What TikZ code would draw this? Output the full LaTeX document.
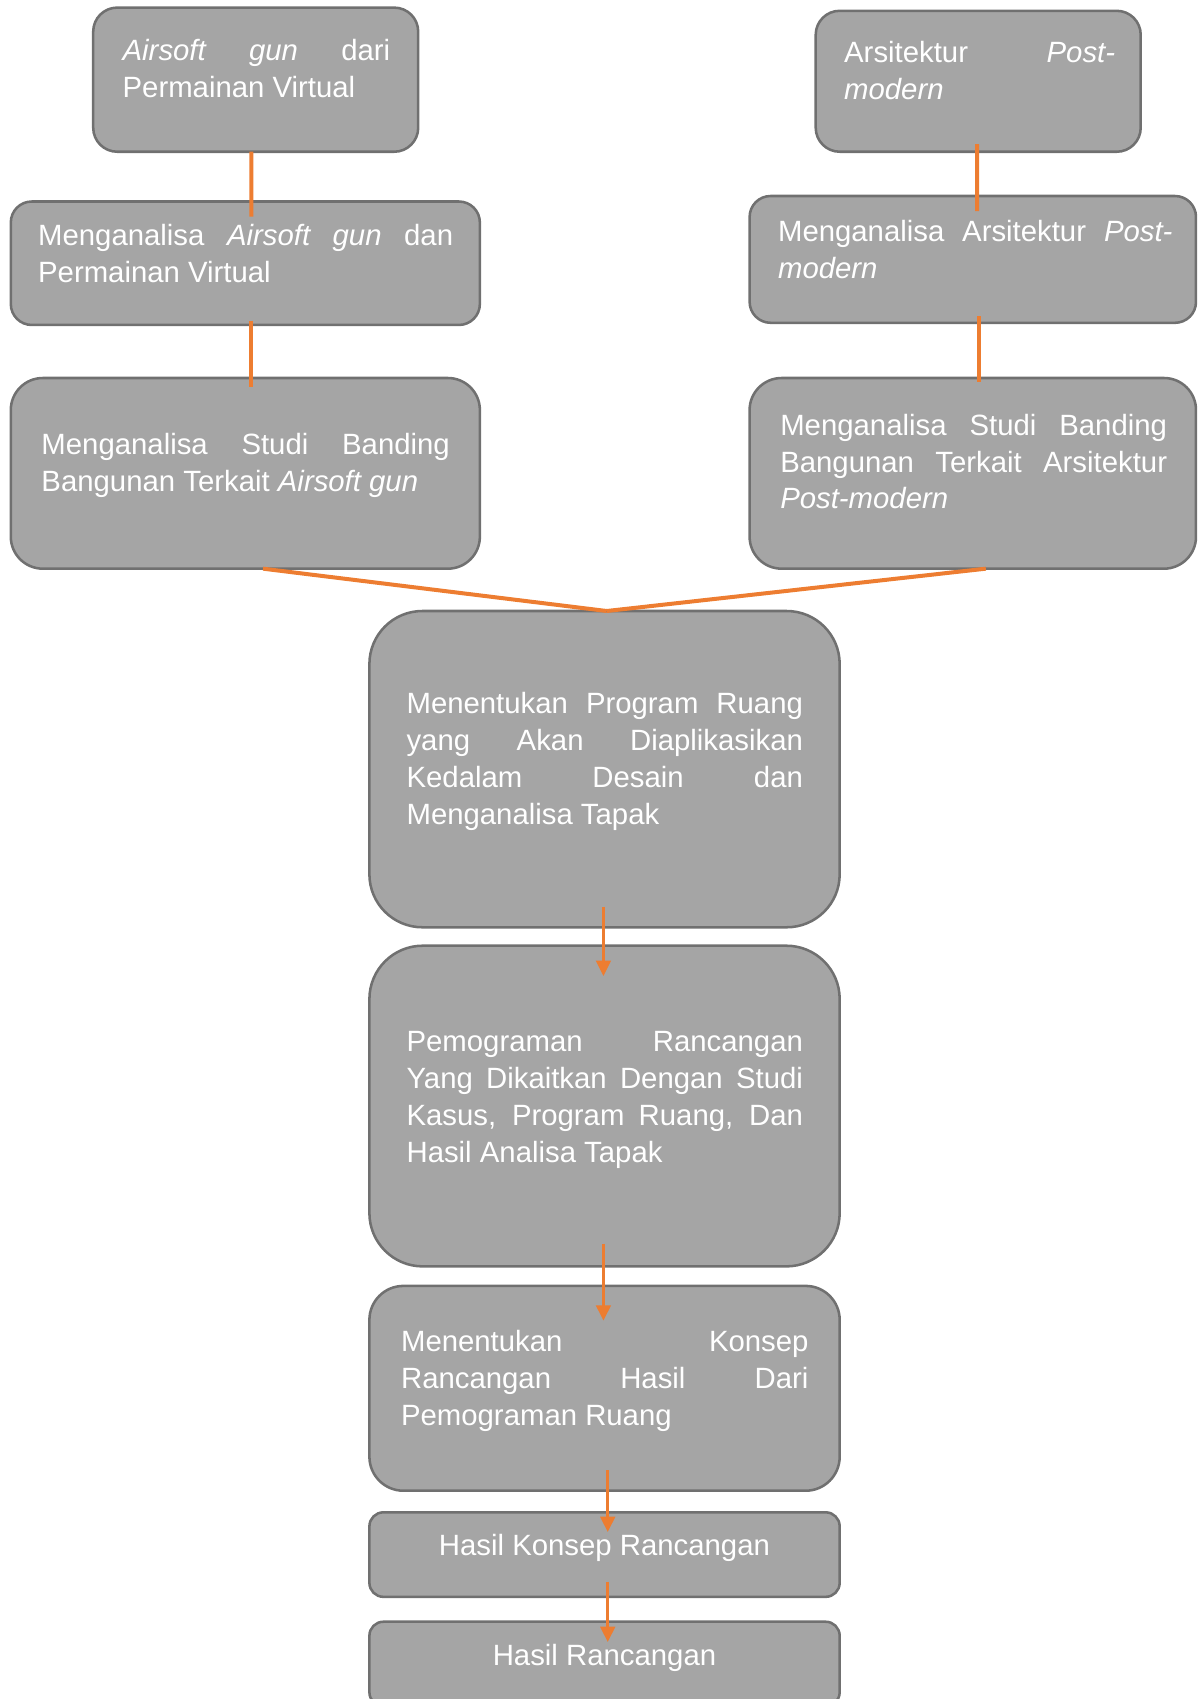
\documentclass[tikz,border=0pt]{standalone}
\usepackage{fontspec}
\setmainfont{Liberation Sans}
\usetikzlibrary{arrows.meta,calc}
\definecolor{boxfill}{HTML}{A5A5A5}
\definecolor{boxline}{HTML}{707070}
\definecolor{orng}{HTML}{ED7D31}
\begin{document}
\begin{tikzpicture}[x=0.75pt,y=-0.75pt,
  box/.style={draw=boxline, line width=1.9pt, fill=boxfill, rectangle, anchor=north west, inner sep=0pt, outer sep=0pt},
  txt/.style={text=white, inner sep=0pt, anchor=base west, align=justify, font=\fontsize{22}{27.6}\selectfont},
  ctxt/.style={text=white, inner sep=0pt, anchor=base, font=\fontsize{22}{27.6}\selectfont},
  conn/.style={draw=orng, line width=3pt},
  arr/.style={draw=orng, line width=2pt, -{Triangle[width=11pt,length=11.5pt]}}]
\clip (0,0) rectangle (1197,1699);
% boxes
\node[box, minimum width=243.75pt, minimum height=108.1pt, rounded corners=18pt] (A) at (93.2,7.6) {};
\node[box, minimum width=351.8pt, minimum height=92.6pt, rounded corners=15.75pt] (B) at (10.8,201.5) {};
\node[box, minimum width=351.8pt, minimum height=143pt, rounded corners=24pt] (C) at (10.8,378) {};
\node[box, minimum width=243.75pt, minimum height=105.7pt, rounded corners=18pt] (D) at (815.7,10.8) {};
\node[box, minimum width=334.8pt, minimum height=95.1pt, rounded corners=15.75pt] (E) at (749.6,196) {};
\node[box, minimum width=334.8pt, minimum height=143pt, rounded corners=24pt] (F) at (749.6,378) {};
\node[box, minimum width=352.7pt, minimum height=237.2pt, rounded corners=39.75pt] (G) at (369.4,611) {};
\node[box, minimum width=352.7pt, minimum height=240.5pt, rounded corners=40pt] (H) at (369.4,945.7) {};
\node[box, minimum width=352.7pt, minimum height=153.6pt, rounded corners=25.5pt] (I) at (369.4,1285.9) {};
\node[box, minimum width=352.7pt, minimum height=63.4pt, rounded corners=10.5pt] (J) at (369.4,1512.3) {};
\node[box, minimum width=352.7pt, minimum height=63.4pt, rounded corners=10.5pt] (K) at (369.4,1621.7) {};
% texts
\node[txt, text width=200.7pt] (tA) at (122.4,60.3) {\textit{Airsoft gun} dari\linebreak Permainan Virtual};
\node[txt, text width=311.2pt] (tB) at (37.9,245.6) {Menganalisa \textit{Airsoft gun} dan\linebreak Permainan Virtual};
\node[txt, text width=306.3pt] (tC) at (41.2,454.7) {Menganalisa Studi Banding\linebreak Bangunan Terkait \textit{Airsoft gun}};
\node[txt, text width=203.2pt] (tD) at (843.9,62.5) {Arsitektur \textit{Post-}\linebreak\textit{modern}};
\node[txt, text width=295.8pt] (tE) at (777.8,241.3) {Menganalisa Arsitektur \textit{Post-}\linebreak\textit{modern}};
\node[txt, text width=290.1pt] (tF) at (780,435.2) {Menganalisa Studi Banding\linebreak Bangunan Terkait Arsitektur\linebreak \textit{Post-modern}};
\node[txt, text width=297.3pt] (tG) at (406.3,713.6) {Menentukan Program Ruang\linebreak yang Akan Diaplikasikan\linebreak Kedalam Desain dan\linebreak Menganalisa Tapak};
\node[txt, text width=297.3pt] (tH) at (406.3,1051.6) {Pemograman Rancangan\linebreak Yang Dikaitkan Dengan Studi\linebreak Kasus, Program Ruang, Dan\linebreak Hasil Analisa Tapak};
\node[txt, text width=305.6pt] (tI) at (400.8,1351.7) {Menentukan Konsep\linebreak Rancangan Hasil Dari\linebreak Pemograman Ruang};
\node[ctxt] (tJ) at (604.5,1555.3) {Hasil Konsep Rancangan};
\node[ctxt] (tK) at (604.5,1665.8) {Hasil Rancangan};
% connectors
\draw[conn] ($(A.south)+(-4.4,0)$) -- ($(B.north)+(6,15.2)$);
\draw[conn] ($(B.south)+(6,-4.3)$) -- ($(C.north)+(6,8.7)$);
\draw[conn] ($(D.south)+(-1.2,-7.7)$) -- ($(E.north)+(4.2,15)$);
\draw[conn] ($(E.south)+(6.5,-6.8)$) -- ($(F.north)+(6.5,4)$);
\draw[conn] ($(C.south)+(17.7,0)$) -- ($(G.north)+(2.2,0)$);
\draw[conn] ($(F.south)+(13,0)$) -- ($(G.north)+(2.2,0)$);
\draw[arr] ($(G.south)+(-1.1,-20.6)$) -- ($(H.north)+(-1.1,30.3)$);
\draw[arr] ($(H.south)+(-1.1,-22.7)$) -- ($(I.north)+(-1.1,34.7)$);
\draw[arr] ($(I.south)+(3.2,-20.7)$) -- ($(J.north)+(3.2,19.7)$);
\draw[arr] ($(J.south)+(3.2,-15.2)$) -- ($(K.north)+(3.2,20.3)$);
\end{tikzpicture}
\end{document}
